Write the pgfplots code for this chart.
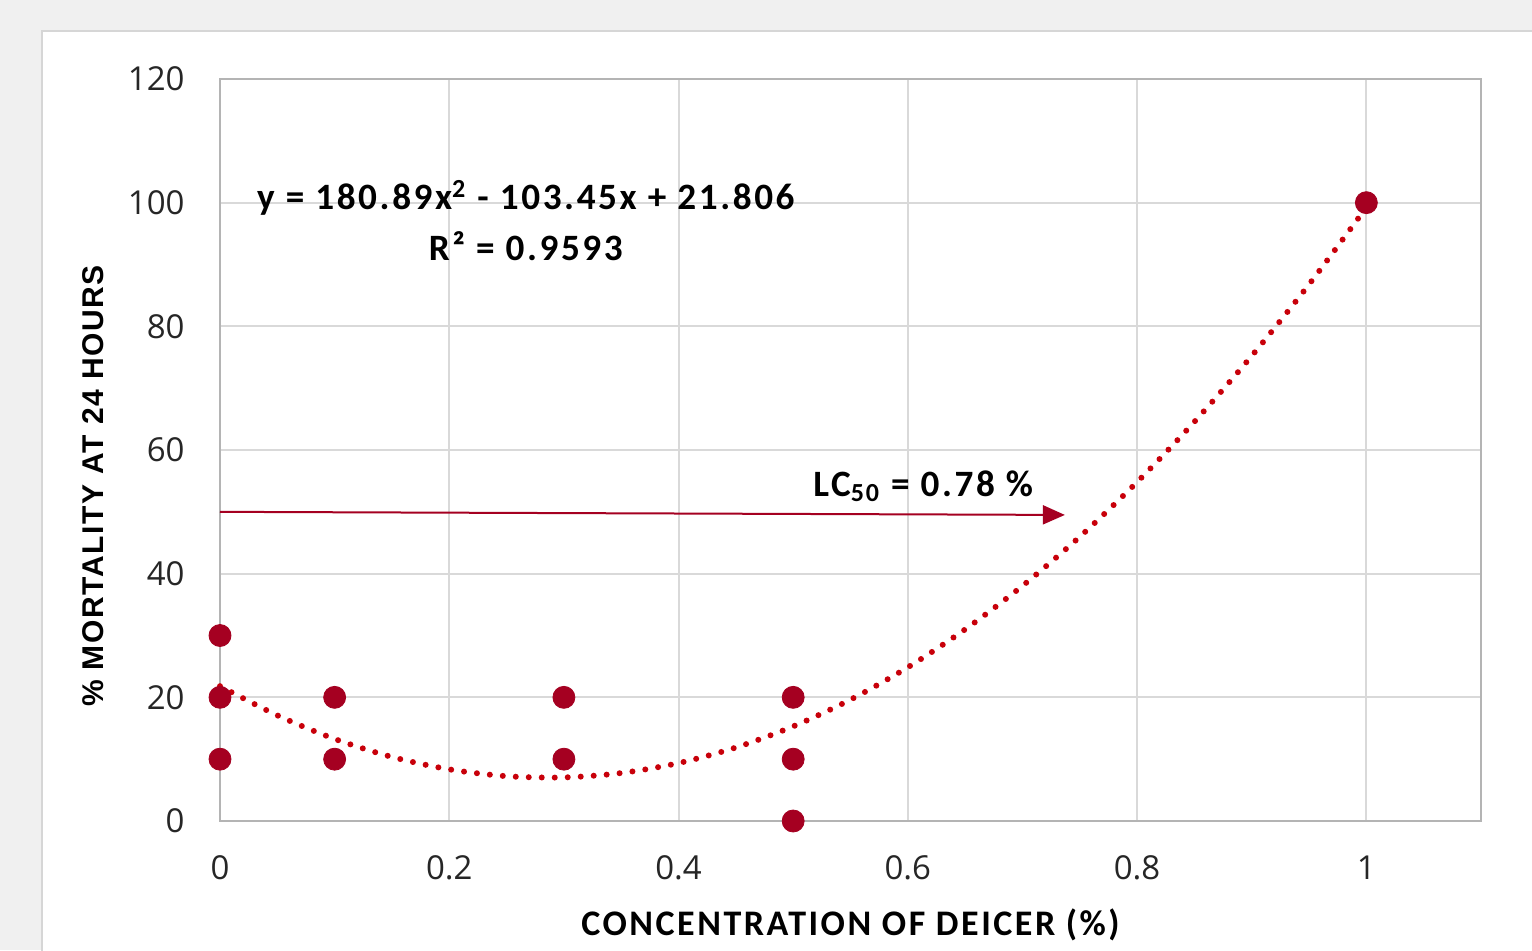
\documentclass[border=0pt]{standalone}
\usepackage{fontspec}
\setmainfont{Carlito}
\newfontfamily\lblfont[LetterSpace=7]{Carlito}
\newfontfamily\tickfont{Open Sans}
\newfontfamily\arialfont[LetterSpace=5.5]{Liberation Sans}
\usepackage{pgfplots}
\pgfplotsset{compat=1.18}
\usetikzlibrary{arrows.meta}
\definecolor{bgout}{HTML}{F0F0F0}
\definecolor{panelborder}{HTML}{D6D6D6}
\definecolor{gridc}{HTML}{D9D9D9}
\definecolor{axisc}{HTML}{B4B4B4}
\definecolor{markc}{HTML}{A50021}
\definecolor{trendc}{HTML}{C8000A}
\begin{document}
\begin{tikzpicture}
\path[use as bounding box, fill=bgout] (0,0) rectangle (766pt,475pt);
\begin{scope}
\clip (0,0) rectangle (766pt,475pt);
\draw[panelborder, line width=1pt, fill=white] (21pt,-5pt) rectangle (800pt,459.5pt);
\end{scope}
\begin{axis}[
  at={(110pt,64.5pt)}, anchor=south west,
  width=630.5pt, height=371pt, scale only axis,
  xmin=0, xmax=1.1, ymin=0, ymax=120,
  xtick={0,0.2,0.4,0.6,0.8,1}, xticklabels={0,0.2,0.4,0.6,0.8,1},
  ytick={0,20,40,60,80,100,120}, yticklabels={0,20,40,60,80,100,120},
  grid=major, major grid style={gridc, line width=1pt},
  axis line style={axisc, line width=1.3pt},
  tick style={draw=none},
  ticklabel style={font=\tickfont\fontsize{16.5}{19}\selectfont, text=black!85},
  yticklabel style={anchor=east, inner sep=0pt, xshift=-17.5pt},
  xticklabel style={anchor=center, inner sep=0pt, yshift=-23.5pt},
  xlabel={CONCENTRATION OF DEICER (\%)},
  xlabel style={font=\lblfont\bfseries\fontsize{18}{20}\selectfont, at={(axis description cs:0.5,-0.1402)}, anchor=center},
  ylabel={\% MORTALITY AT 24 HOURS},
  ylabel style={font=\arialfont\bfseries\fontsize{15}{17}\selectfont, at={(axis description cs:-0.1007,0.4515)}, anchor=center},
  clip=false,
]
\addplot[trendc, line width=3pt, line cap=round, dash pattern=on 0pt off 6.5pt, smooth, no markers] coordinates {
(0,21.806) (0.05,17.086) (0.1,13.270) (0.15,10.359) (0.2,8.352) (0.25,7.249) (0.3,7.051) (0.35,7.758) (0.4,9.368) (0.45,11.884) (0.5,15.304) (0.55,19.628) (0.6,24.856) (0.65,30.990) (0.7,38.027) (0.75,45.970) (0.8,54.816) (0.85,64.567) (0.9,75.222) (0.95,86.782) (1.0,99.246)
};
\addplot[only marks, mark=*, mark size=5.5pt, color=markc, mark options={fill=markc, draw=markc}] coordinates {
(0,30) (0,20) (0,10) (0.1,20) (0.1,10) (0.3,20) (0.3,10) (0.5,20) (0.5,10) (0.5,0) (1,100)
};
\draw[markc, line width=1pt, -{Triangle[length=11pt,width=9.5pt]}] (axis cs:0,50) -- (axis cs:0.737,49.5);
\node[font=\lblfont\bfseries\fontsize{18.6}{21}\selectfont] at (axis cs:0.2668,100.76) {y = 180.89x\textsuperscript{2} - 103.45x + 21.806};
\node[font=\lblfont\bfseries\fontsize{18.6}{21}\selectfont] at (axis cs:0.2668,93.0) {R² = 0.9593};
\node[font=\lblfont\bfseries\fontsize{18.6}{21}\selectfont] at (axis cs:0.6134,54.2) {LC\textsubscript{50} = 0.78 \%};
\end{axis}
\end{tikzpicture}
\end{document}
